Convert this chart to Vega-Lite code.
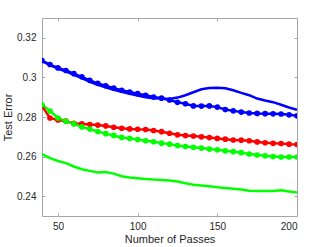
{
  "$schema": "https://vega.github.io/schema/vega-lite/v6.json",
  "width": 255,
  "height": 198,
  "autosize": "none",
  "padding": {"left": 42, "top": 18, "right": 32, "bottom": 31},
  "background": "white",
  "config": {
    "view": {"stroke": null},
    "axis": {
      "grid": false,
      "domainColor": "#a6a6a6",
      "tickColor": "#a6a6a6",
      "tickSize": -3,
      "labelColor": "#262626",
      "titleColor": "#262626",
      "labelFont": "Liberation Sans",
      "titleFont": "Liberation Sans",
      "labelFontSize": 10,
      "titleFontSize": 11,
      "titleFontWeight": "normal"
    }
  },
  "datasets": {
    "d": [
      {"pass": 40, "err": 0.3085, "s": "bd"}, {"pass": 45, "err": 0.3065, "s": "bd"}, {"pass": 50, "err": 0.3048, "s": "bd"}, {"pass": 55, "err": 0.3035, "s": "bd"}, {"pass": 60, "err": 0.3019, "s": "bd"}, {"pass": 65, "err": 0.3003, "s": "bd"}, {"pass": 70, "err": 0.2985, "s": "bd"}, {"pass": 75, "err": 0.2970, "s": "bd"}, {"pass": 80, "err": 0.2958, "s": "bd"}, {"pass": 85, "err": 0.2946, "s": "bd"}, {"pass": 90, "err": 0.2935, "s": "bd"}, {"pass": 95, "err": 0.2926, "s": "bd"}, {"pass": 100, "err": 0.2918, "s": "bd"}, {"pass": 105, "err": 0.2910, "s": "bd"}, {"pass": 110, "err": 0.2901, "s": "bd"}, {"pass": 115, "err": 0.2895, "s": "bd"}, {"pass": 120, "err": 0.2886, "s": "bd"}, {"pass": 125, "err": 0.2874, "s": "bd"}, {"pass": 130, "err": 0.2867, "s": "bd"}, {"pass": 135, "err": 0.2856, "s": "bd"}, {"pass": 140, "err": 0.2855, "s": "bd"}, {"pass": 145, "err": 0.2856, "s": "bd"}, {"pass": 150, "err": 0.2850, "s": "bd"}, {"pass": 155, "err": 0.2838, "s": "bd"}, {"pass": 160, "err": 0.2831, "s": "bd"}, {"pass": 165, "err": 0.2825, "s": "bd"}, {"pass": 170, "err": 0.2820, "s": "bd"}, {"pass": 175, "err": 0.2818, "s": "bd"}, {"pass": 180, "err": 0.2817, "s": "bd"}, {"pass": 185, "err": 0.2816, "s": "bd"}, {"pass": 190, "err": 0.2815, "s": "bd"}, {"pass": 195, "err": 0.2811, "s": "bd"}, {"pass": 200, "err": 0.2806, "s": "bd"},

      {"pass": 40, "err": 0.3083, "s": "bl"}, {"pass": 45, "err": 0.3062, "s": "bl"}, {"pass": 50, "err": 0.3045, "s": "bl"}, {"pass": 55, "err": 0.3030, "s": "bl"}, {"pass": 60, "err": 0.3013, "s": "bl"}, {"pass": 65, "err": 0.2996, "s": "bl"}, {"pass": 70, "err": 0.2977, "s": "bl"}, {"pass": 75, "err": 0.2963, "s": "bl"}, {"pass": 80, "err": 0.2950, "s": "bl"}, {"pass": 85, "err": 0.2938, "s": "bl"}, {"pass": 90, "err": 0.2927, "s": "bl"}, {"pass": 95, "err": 0.2917, "s": "bl"}, {"pass": 100, "err": 0.2909, "s": "bl"}, {"pass": 105, "err": 0.2900, "s": "bl"}, {"pass": 110, "err": 0.2895, "s": "bl"}, {"pass": 115, "err": 0.2893, "s": "bl"}, {"pass": 120, "err": 0.2891, "s": "bl"}, {"pass": 125, "err": 0.2898, "s": "bl"}, {"pass": 130, "err": 0.2910, "s": "bl"}, {"pass": 135, "err": 0.2925, "s": "bl"}, {"pass": 140, "err": 0.2940, "s": "bl"}, {"pass": 145, "err": 0.2946, "s": "bl"}, {"pass": 150, "err": 0.2948, "s": "bl"}, {"pass": 155, "err": 0.2945, "s": "bl"}, {"pass": 160, "err": 0.2935, "s": "bl"}, {"pass": 165, "err": 0.2922, "s": "bl"}, {"pass": 170, "err": 0.2910, "s": "bl"}, {"pass": 175, "err": 0.2893, "s": "bl"}, {"pass": 180, "err": 0.2883, "s": "bl"}, {"pass": 185, "err": 0.2875, "s": "bl"}, {"pass": 190, "err": 0.2862, "s": "bl"}, {"pass": 195, "err": 0.2848, "s": "bl"}, {"pass": 200, "err": 0.2836, "s": "bl"},

      {"pass": 40, "err": 0.2855, "s": "rd"}, {"pass": 45, "err": 0.2795, "s": "rd"}, {"pass": 50, "err": 0.2785, "s": "rd"}, {"pass": 55, "err": 0.2779, "s": "rd"}, {"pass": 60, "err": 0.2768, "s": "rd"}, {"pass": 65, "err": 0.2765, "s": "rd"}, {"pass": 70, "err": 0.2762, "s": "rd"}, {"pass": 75, "err": 0.2759, "s": "rd"}, {"pass": 80, "err": 0.2755, "s": "rd"}, {"pass": 85, "err": 0.2748, "s": "rd"}, {"pass": 90, "err": 0.2743, "s": "rd"}, {"pass": 95, "err": 0.2740, "s": "rd"}, {"pass": 100, "err": 0.2738, "s": "rd"}, {"pass": 105, "err": 0.2737, "s": "rd"}, {"pass": 110, "err": 0.2732, "s": "rd"}, {"pass": 115, "err": 0.2726, "s": "rd"}, {"pass": 120, "err": 0.2718, "s": "rd"}, {"pass": 125, "err": 0.2710, "s": "rd"}, {"pass": 130, "err": 0.2706, "s": "rd"}, {"pass": 135, "err": 0.2704, "s": "rd"}, {"pass": 140, "err": 0.2700, "s": "rd"}, {"pass": 145, "err": 0.2696, "s": "rd"}, {"pass": 150, "err": 0.2692, "s": "rd"}, {"pass": 155, "err": 0.2688, "s": "rd"}, {"pass": 160, "err": 0.2684, "s": "rd"}, {"pass": 165, "err": 0.2683, "s": "rd"}, {"pass": 170, "err": 0.2680, "s": "rd"}, {"pass": 175, "err": 0.2674, "s": "rd"}, {"pass": 180, "err": 0.2670, "s": "rd"}, {"pass": 185, "err": 0.2667, "s": "rd"}, {"pass": 190, "err": 0.2666, "s": "rd"}, {"pass": 195, "err": 0.2663, "s": "rd"}, {"pass": 200, "err": 0.2661, "s": "rd"},

      {"pass": 40, "err": 0.2862, "s": "gd"}, {"pass": 45, "err": 0.2830, "s": "gd"}, {"pass": 50, "err": 0.2795, "s": "gd"}, {"pass": 55, "err": 0.2778, "s": "gd"}, {"pass": 60, "err": 0.2765, "s": "gd"}, {"pass": 65, "err": 0.2750, "s": "gd"}, {"pass": 70, "err": 0.2739, "s": "gd"}, {"pass": 75, "err": 0.2727, "s": "gd"}, {"pass": 80, "err": 0.2716, "s": "gd"}, {"pass": 85, "err": 0.2707, "s": "gd"}, {"pass": 90, "err": 0.2697, "s": "gd"}, {"pass": 95, "err": 0.2692, "s": "gd"}, {"pass": 100, "err": 0.2686, "s": "gd"}, {"pass": 105, "err": 0.2680, "s": "gd"}, {"pass": 110, "err": 0.2675, "s": "gd"}, {"pass": 115, "err": 0.2668, "s": "gd"}, {"pass": 120, "err": 0.2663, "s": "gd"}, {"pass": 125, "err": 0.2656, "s": "gd"}, {"pass": 130, "err": 0.2651, "s": "gd"}, {"pass": 135, "err": 0.2647, "s": "gd"}, {"pass": 140, "err": 0.2643, "s": "gd"}, {"pass": 145, "err": 0.2638, "s": "gd"}, {"pass": 150, "err": 0.2634, "s": "gd"}, {"pass": 155, "err": 0.2629, "s": "gd"}, {"pass": 160, "err": 0.2625, "s": "gd"}, {"pass": 165, "err": 0.2620, "s": "gd"}, {"pass": 170, "err": 0.2613, "s": "gd"}, {"pass": 175, "err": 0.2608, "s": "gd"}, {"pass": 180, "err": 0.2604, "s": "gd"}, {"pass": 185, "err": 0.2600, "s": "gd"}, {"pass": 190, "err": 0.2598, "s": "gd"}, {"pass": 195, "err": 0.2598, "s": "gd"}, {"pass": 200, "err": 0.2598, "s": "gd"},

      {"pass": 40, "err": 0.2612, "s": "gl"}, {"pass": 45, "err": 0.2592, "s": "gl"}, {"pass": 50, "err": 0.2578, "s": "gl"}, {"pass": 55, "err": 0.2567, "s": "gl"}, {"pass": 60, "err": 0.2550, "s": "gl"}, {"pass": 65, "err": 0.2536, "s": "gl"}, {"pass": 70, "err": 0.2528, "s": "gl"}, {"pass": 75, "err": 0.2520, "s": "gl"}, {"pass": 80, "err": 0.2522, "s": "gl"}, {"pass": 85, "err": 0.2514, "s": "gl"}, {"pass": 90, "err": 0.2501, "s": "gl"}, {"pass": 95, "err": 0.2494, "s": "gl"}, {"pass": 100, "err": 0.2491, "s": "gl"}, {"pass": 105, "err": 0.2487, "s": "gl"}, {"pass": 110, "err": 0.2484, "s": "gl"}, {"pass": 115, "err": 0.2482, "s": "gl"}, {"pass": 120, "err": 0.2479, "s": "gl"}, {"pass": 125, "err": 0.2474, "s": "gl"}, {"pass": 130, "err": 0.2465, "s": "gl"}, {"pass": 135, "err": 0.2458, "s": "gl"}, {"pass": 140, "err": 0.2454, "s": "gl"}, {"pass": 145, "err": 0.2450, "s": "gl"}, {"pass": 150, "err": 0.2445, "s": "gl"}, {"pass": 155, "err": 0.2441, "s": "gl"}, {"pass": 160, "err": 0.2438, "s": "gl"}, {"pass": 165, "err": 0.2434, "s": "gl"}, {"pass": 170, "err": 0.2427, "s": "gl"}, {"pass": 175, "err": 0.2426, "s": "gl"}, {"pass": 180, "err": 0.2426, "s": "gl"}, {"pass": 185, "err": 0.2426, "s": "gl"}, {"pass": 190, "err": 0.2430, "s": "gl"}, {"pass": 195, "err": 0.2424, "s": "gl"}, {"pass": 200, "err": 0.2418, "s": "gl"}
    ]
  },
  "data": {"name": "d"},
  "resolve": {"axis": {"x": "independent", "y": "independent"}},
  "layer": [
    {
      "mark": {"type": "line", "strokeWidth": 2.5, "clip": true},
      "encoding": {
        "x": {"field": "pass", "type": "quantitative", "scale": {"domain": [40, 200], "nice": false, "zero": false},
              "axis": {"title": "Number of Passes", "values": [50, 100, 150, 200], "titlePadding": 2, "labelPadding": 8}},
        "y": {"field": "err", "type": "quantitative", "scale": {"domain": [0.23, 0.33], "nice": false, "zero": false},
              "axis": {"title": "Test Error", "values": [0.24, 0.26, 0.28, 0.3, 0.32], "format": "~g", "titlePadding": 3, "labelPadding": 9}},
        "color": {"field": "s", "type": "nominal", "legend": null,
                  "scale": {"domain": ["bd", "bl", "rd", "gd", "gl"], "range": ["#0000ff", "#0000ff", "#ff0000", "#00ff00", "#00ff00"]}},
        "detail": {"field": "s"}
      }
    },
    {
      "transform": [{"filter": {"field": "s", "oneOf": ["bd", "rd", "gd"]}}],
      "mark": {"type": "point", "filled": true, "opacity": 1, "size": 32, "shape": "circle", "clip": true},
      "encoding": {
        "x": {"field": "pass", "type": "quantitative",
              "axis": {"orient": "top", "title": null, "labels": false, "values": [50, 100, 150, 200]}},
        "y": {"field": "err", "type": "quantitative",
              "axis": {"orient": "right", "title": null, "labels": false, "values": [0.24, 0.26, 0.28, 0.3, 0.32]}},
        "color": {"field": "s", "type": "nominal", "legend": null}
      }
    }
  ]
}
